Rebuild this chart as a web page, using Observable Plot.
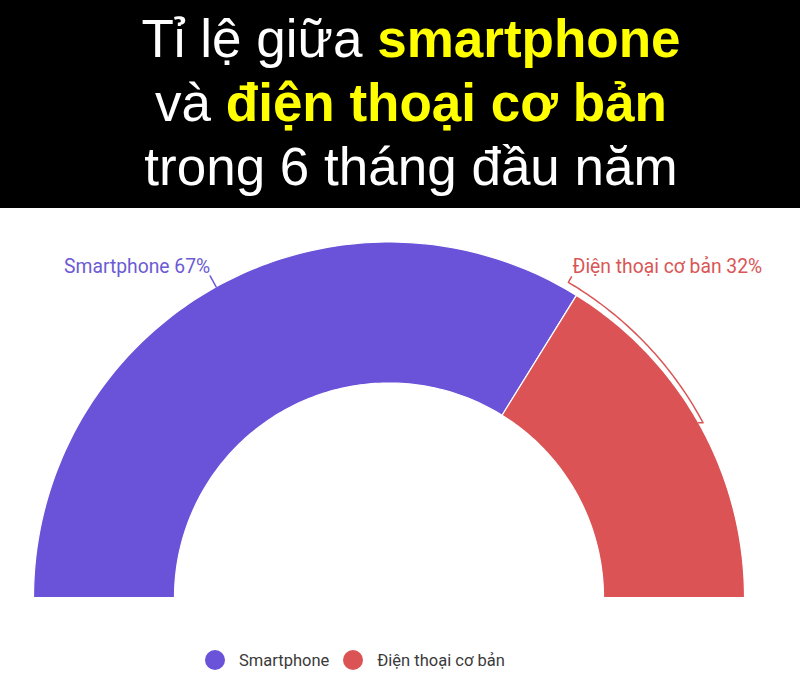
<!DOCTYPE html>
<html>
<head>
<meta charset="utf-8">
<script src="https://cdn.jsdelivr.net/npm/d3@7"></script>
<script src="https://cdn.jsdelivr.net/npm/@observablehq/plot@0.6"></script>
<style>
  html, body { margin: 0; padding: 0; background: #fff; }
  #wrap { width: 800px; height: 683px; position: relative; overflow: hidden; }
  #title {
    background: #000; height: 208px; box-sizing: border-box;
    padding-top: 7px; padding-left: 22px;
    font-family: "Liberation Sans", Arial, sans-serif; font-size: 53px; line-height: 64px;
    color: #fff; text-align: center;
  }
  #title b { color: #ffff00; font-weight: bold; }
  #legend {
    position: absolute; top: 640px; left: 205px; height: 40px;
    display: flex; align-items: center;
    font-family: Roboto, sans-serif; font-size: 16.5px; color: #3a3a3a;
  }
  #legend .sw { width: 20px; height: 20px; border-radius: 50%; margin-right: 14px; }
  #legend .it { display: flex; align-items: center; margin-right: 14px; }
</style>
</head>
<body>
<div id="wrap">
  <div id="title">Tỉ lệ giữa <b>smartphone</b><br>và <b>điện thoại cơ bản</b><br>trong 6 tháng đầu năm</div>
  <div id="chart"></div>
  <div id="legend"></div>
</div>
<script>
const categories = ["Smartphone", "Điện thoại cơ bản"];
const values = [67, 32];
const colors = ["#6a52d9", "#db5355"];
const labelColors = ["#6c5bd3", "#d95656"];
const innerRatio = 0.6034;

const total = d3.sum(values);
// slices go clockwise from the left (angle PI) to the right (angle 0)
let acc = 0;
const slices = categories.map((c, i) => {
  const a0 = Math.PI - (acc / total) * Math.PI;
  acc += values[i];
  const a1 = Math.PI - (acc / total) * Math.PI;
  return {cat: c, value: values[i], a0, a1, mid: (a0 + a1) / 2};
});

const N = 120;
const polyPts = [];
slices.forEach(s => {
  const pts = [];
  for (let k = 0; k <= N; k++) { const a = s.a0 + (s.a1 - s.a0) * k / N; pts.push([Math.cos(a), Math.sin(a)]); }
  for (let k = N; k >= 0; k--) { const a = s.a0 + (s.a1 - s.a0) * k / N; pts.push([innerRatio * Math.cos(a), innerRatio * Math.sin(a)]); }
  pts.push(pts[0]);
  pts.forEach(p => polyPts.push({cat: s.cat, x: p[0], y: p[1]}));
});

const pol = (r, a) => ({x: r * Math.cos(a), y: r * Math.sin(a)});

// leader for smartphone: radial at mid angle
const s0 = slices[0];
const leader0 = [pol(1.0, s0.mid), pol(1.035, s0.mid)].map(p => ({...p, cat: s0.cat}));
// bracket for second slice: from slice start to its mid angle
const s1 = slices[1];
const br = [];
const aTop = s1.a0 + 0.038;
br.push(pol(1.038, aTop));
br.push(pol(1.020, aTop));
for (let k = 0; k <= 60; k++) {
  const a = aTop + (s1.mid - aTop) * k / 60;
  const r = 1.020 + (1.011 - 1.020) * k / 60;
  br.push(pol(r, a));
}
br.push(pol(1.0, s1.mid + 0.006));
const leader1 = br.map(p => ({...p, cat: s1.cat}));

const labels = [
  {...pol(1.035, s0.mid), text: `${categories[0]} ${values[0]}%`, cat: categories[0]},
  {...pol(1.038, aTop), text: `${categories[1]} ${values[1]}%`, cat: categories[1]}
];

const R = 355.5, cx = 388.5, cy = 389, H = 432, W = 800;
const chart = Plot.plot({
  width: W, height: H,
  margin: 0,
  style: {fontFamily: "Roboto, sans-serif", background: "transparent"},
  x: {domain: [-cx / R, (W - cx) / R], range: [0, W], axis: null},
  y: {domain: [-(H - cy) / R, cy / R], range: [H, 0], axis: null},
  color: {domain: categories, range: colors},
  marks: [
    Plot.line(polyPts, {x: "x", y: "y", z: "cat", fill: "cat", stroke: "white", strokeWidth: 1.2, curve: "linear"}),
    Plot.line(leader0, {x: "x", y: "y", stroke: labelColors[0], strokeWidth: 1.5}),
    Plot.line(leader1, {x: "x", y: "y", stroke: labelColors[1], strokeWidth: 1.5}),
    Plot.text([labels[0]], {x: "x", y: "y", text: "text", textAnchor: "end", dx: 0, dy: -9, fill: labelColors[0], fontSize: 19.3}),
    Plot.text([labels[1]], {x: "x", y: "y", text: "text", textAnchor: "start", dx: 1, dy: -10, fill: labelColors[1], fontSize: 19.3})
  ]
});
document.getElementById("chart").appendChild(chart);

const lg = document.getElementById("legend");
categories.forEach((c, i) => {
  const it = document.createElement("div");
  it.className = "it";
  it.innerHTML = `<div class="sw" style="background:${colors[i]}"></div><span>${c}</span>`;
  lg.appendChild(it);
});
</script>
</body>
</html>
